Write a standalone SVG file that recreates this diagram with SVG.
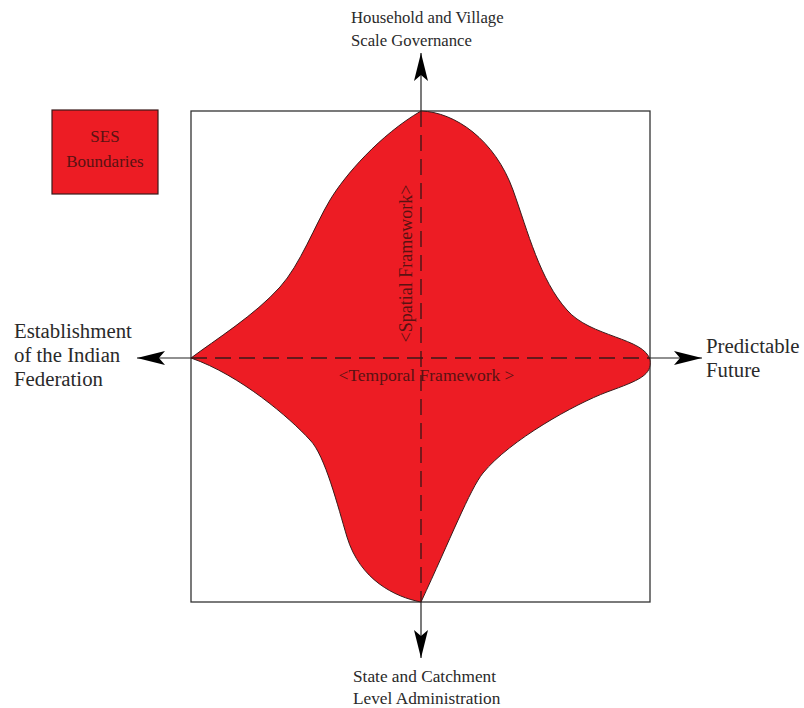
<svg xmlns="http://www.w3.org/2000/svg" width="804" height="708" viewBox="0 0 804 708">
  <style>
    .lbl { font-family: "Liberation Serif", "Times New Roman", serif; fill: #2a2a2a; }
    .inner { font-family: "Liberation Serif", "Times New Roman", serif; fill: #5a1212; }
    .axis { stroke: #222; stroke-width: 1.2; fill: none; }
    .dash { stroke: #3a1818; stroke-width: 1.3; stroke-dasharray: 16 8; fill: none; }
  </style>
  <defs>
    <marker id="ah" markerUnits="userSpaceOnUse" viewBox="0 0 28 14" refX="28" refY="7" markerWidth="28" markerHeight="14" orient="auto">
      <path d="M0,0 L28,7 L0,14 L6,7 Z" fill="#000"/>
    </marker>
  </defs>
  <rect width="804" height="708" fill="#fff"/>

  <g id="frame">
    <rect x="191" y="111" width="459" height="491" fill="none" stroke="#333" stroke-width="1.3"/>
  </g>

  <g id="ses-shape">
    <path d="M421,111 C455,112 495,140 513,190 C528,232 540,280 567,310 C590,337 645,338 650,360 C652,375 640,380 607,392 C575,404 510,440 483,473 C470,489 450,540 421,602 C395,597 360,580 347,537 C338,507 325,455 310,440 C290,418 240,375 191,358 C215,340 255,315 280,287 C300,265 315,225 330,200 C345,175 380,135 421,111 Z" fill="#ED1C24" stroke="#3a1a1a" stroke-width="1"/>
  </g>

  <g id="connectors">
    <line class="axis" x1="421" y1="111" x2="421" y2="53" marker-end="url(#ah)"/>
    <line class="axis" x1="421" y1="602" x2="421" y2="658" marker-end="url(#ah)"/>
    <line class="axis" x1="191" y1="358" x2="137" y2="358" marker-end="url(#ah)"/>
    <line class="axis" x1="650" y1="358" x2="702" y2="358" marker-end="url(#ah)"/>
    <line class="dash" x1="421" y1="111" x2="421" y2="602"/>
    <line class="dash" x1="191" y1="358" x2="650" y2="358"/>
  </g>

  <g id="legend">
    <rect x="52" y="110" width="106" height="84" fill="#ED1C24" stroke="#3a1a1a" stroke-width="1.2"/>
    <text class="inner" x="105" y="142" font-size="17" text-anchor="middle">SES</text>
    <text class="inner" x="105" y="167" font-size="17" text-anchor="middle">Boundaries</text>
  </g>

  <g id="label-top">
    <text class="lbl" x="351" y="23" font-size="16.7">Household and Village</text>
    <text class="lbl" x="351" y="46" font-size="16.7">Scale Governance</text>
  </g>
  <g id="label-bottom">
    <text class="lbl" x="353" y="682" font-size="17.3">State and Catchment</text>
    <text class="lbl" x="353" y="704" font-size="17.3">Level Administration</text>
  </g>
  <g id="label-left">
    <text class="lbl" x="14" y="338" font-size="20.8">Establishment</text>
    <text class="lbl" x="14" y="362" font-size="20.8">of the Indian</text>
    <text class="lbl" x="14" y="386" font-size="20.8">Federation</text>
  </g>
  <g id="label-right">
    <text class="lbl" x="706" y="353" font-size="20.8">Predictable</text>
    <text class="lbl" x="706" y="377" font-size="20.8">Future</text>
  </g>

  <g id="axis-labels">
    <text class="inner" x="426.5" y="381" font-size="17.5" text-anchor="middle">&lt;Temporal Framework &gt;</text>
    <text class="inner" transform="translate(412,263.5) rotate(-90)" x="0" y="0" font-size="18" text-anchor="middle">&lt;Spatial Framework&gt;</text>
  </g>
</svg>
